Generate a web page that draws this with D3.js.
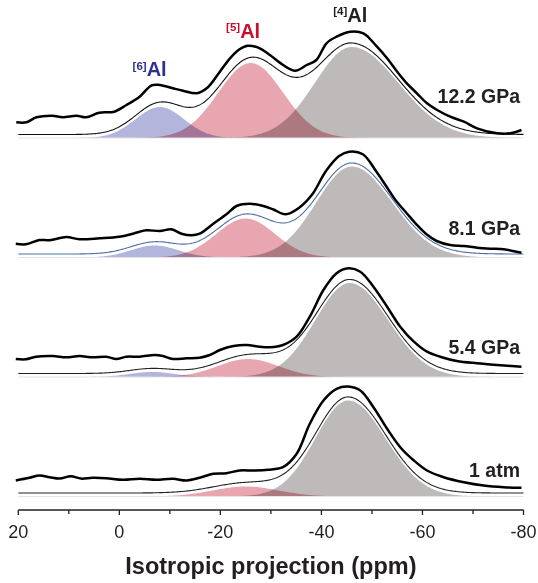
<!DOCTYPE html>
<html>
<head>
<meta charset="utf-8">
<script src="https://cdn.jsdelivr.net/npm/d3@7"></script>
<style>
  body { margin: 0; background: #fff; }
  text { font-family: Arial, "Liberation Sans", sans-serif; }
</style>
</head>
<body>
<script>
// size of the picture
var width = 538,
    height = 583;

// panels, top to bottom
var panels = ["12.2 GPa", "8.1 GPa", "5.4 GPa", "1 atm"];

// fitted components for each panel: centre (ppm), height, gaussian widths (ppm)
var al6Center = [-8, -7, -6.5, -7];
var al6Height = [31, 12, 5, 0];
var al6Width = [4.8, 4.7, 4.5, 4.5];

var al5Center = [-26, -25, -25.5, -25];
var al5Height = [75, 39, 18, 10];
var al5Width = [6.4, 5.8, 6, 6.5];

var al4Center = [-46, -46, -45.6, -45.3];
var al4Height = [91, 91, 94, 96];
var al4WidthLeft = [7.3, 7, 6.8, 6.5];
var al4WidthRight = [9.2, 8, 7.6, 7.4];

// measured projections, [ppm, intensity]
var data122 = [[20.4, 3.7], [18.4, 3.7], [16.4, 8.7], [13.3, 10.3], [11.2, 8.7], [8.5, 10.3],
  [6.6, 8.7], [4, 13.3], [1, 14.3], [-1.4, 21], [-4, 29.3], [-6.4, 40.7], [-8, 41],
  [-10.6, 37.7], [-12.6, 35.3], [-15.3, 32.7], [-17.3, 37.7], [-19.9, 54.3], [-21.9, 67.7],
  [-23.8, 76.7], [-25.4, 80.3], [-27.8, 77.7], [-29.8, 71], [-32.4, 61], [-34.8, 55.3],
  [-37.1, 61], [-39, 66], [-41, 82.7], [-43, 89.3], [-45.7, 94.3], [-48.3, 92.7], [-51, 79.3],
  [-53, 67.7], [-55, 54.3], [-56.9, 42.7], [-58.9, 32.7], [-60.9, 22.7], [-62.9, 16],
  [-65.5, 9.3], [-68.2, 4.3], [-70.8, -2.3], [-74.8, -7.3], [-77.4, -7.3], [-79.6, -4]];

var data81 = [[20.5, 1.8], [18.5, 1.2], [15.8, 5.5], [13.8, 5.2], [10.5, 8.5], [7.9, 6.2],
  [3.9, 7.2], [0, 8.8], [-2.7, 11.8], [-5.3, 15.2], [-8, 14.5], [-10.3, 16.2], [-12.3, 11.8],
  [-14.3, 10.2], [-15.9, 11.8], [-18.6, 21.8], [-21.2, 31.2], [-23.2, 39.5], [-25.8, 41.8],
  [-28.5, 39.5], [-30.5, 36], [-32.9, 31.2], [-35.6, 37.8], [-38.2, 51.2], [-40.9, 74.5],
  [-43.5, 89.5], [-45.5, 93.8], [-48.2, 91.2], [-50.8, 74.5], [-52.8, 59.5], [-54.8, 44.5],
  [-56.8, 32.8], [-58.8, 21.2], [-60.8, 11.2], [-62.8, 4.5], [-65.5, 0.5], [-68.2, -0.5],
  [-70.8, -2.2], [-73.5, -3.2], [-76.1, -3.8], [-79.6, -7.2]];

var data54 = [[20.5, 6], [18.5, 5.7], [16.5, 8.3], [13.2, 9], [10.5, 7.7], [7.9, 9], [5.3, 7.7],
  [2.6, 8.3], [0.6, 6], [-1.4, 8.3], [-4, 8.3], [-7, 10], [-8.6, 9], [-10.6, 6], [-13.3, 6.7],
  [-15.9, 7.3], [-17.9, 10], [-19.9, 15], [-22.6, 19], [-25.2, 20], [-27.8, 18.3], [-29.8, 17.7],
  [-32.4, 20], [-35.1, 28.3], [-37.7, 48.3], [-40.4, 75], [-43, 91.7], [-45.3, 96.7],
  [-47.7, 93.3], [-50.3, 78.3], [-53, 58.3], [-55.6, 38.3], [-58.3, 23.3], [-60.9, 13.3],
  [-63.5, 8.3], [-66.8, 4], [-70.8, 1.7], [-74.8, 0], [-79.6, -1.7]];

var data1atm = [[20.5, 4], [17.8, 6.7], [15.8, 9], [13.8, 7.3], [11.8, 5.9], [9.6, 8.3], [7.6, 5.9],
  [5.3, 6.7], [2.6, 6.3], [-0.7, 4.7], [-4, 5.7], [-7.3, 4.7], [-10.6, 5.7], [-13.3, 4],
  [-15.9, 6.7], [-18.6, 10.7], [-21.2, 11.3], [-23.8, 14], [-26.5, 14], [-29.4, 14.7],
  [-32.4, 17.3], [-35.1, 30.7], [-37.7, 60.7], [-40.4, 84], [-43, 95.7], [-45.3, 98],
  [-47.7, 94], [-50.3, 77.3], [-53, 55.7], [-55.6, 37.3], [-58.3, 24], [-60.9, 14],
  [-64.2, 7.3], [-68.2, 2.3], [-72.1, -1], [-76.1, -2.7], [-79.6, -3.3]];

var measured = [data122, data81, data54, data1atm];

// axis ticks
var majorTicks = [20, 0, -20, -40, -60, -80];
var minorTicks = [10, -10, -30, -50, -70];

// styles
var fillColors = { al6: "#b3b5dc", al5: "#e8a6b1", al4: "#bdbab9" };
var fitColors = ["#111", "#4d6fa6", "#222", "#222"];

var svg = d3.select("body")
  .append("svg")
  .attr("width", width)
  .attr("height", height);

// ppm scale runs from high to low
var x = d3.scaleLinear()
  .domain([20, -80])
  .range([18.3, 523.5]);

// baseline of each panel
var panelY = d3.scalePoint()
  .domain(panels)
  .range([138, 496.5]);

// intensity to pixels (upwards)
var y = d3.scaleLinear()
  .domain([0, 100])
  .range([0, -100]);

var fitOffset = 3.5,
    dataOffset = 12;

function gauss(p, c, h, wl, wr) {
  var w = p > c ? wl : wr;
  return h * Math.exp(-(p - c) * (p - c) / (2 * w * w));
}

var grid = d3.range(20, -80.01, -0.25);

panels.forEach(function(name, i) {
  var g = svg.append("g")
    .attr("transform", "translate(0," + panelY(name) + ")");

  var comps = [
    { key: "al6", f: function(p) { return gauss(p, al6Center[i], al6Height[i], al6Width[i], al6Width[i]); } },
    { key: "al5", f: function(p) { return gauss(p, al5Center[i], al5Height[i], al5Width[i], al5Width[i]); } },
    { key: "al4", f: function(p) { return gauss(p, al4Center[i], al4Height[i], al4WidthLeft[i], al4WidthRight[i]); } }
  ];

  var area = d3.area()
    .x(function(d) { return x(d[0]); })
    .y0(y(0))
    .y1(function(d) { return y(d[1]); });

  comps.forEach(function(c) {
    g.append("path")
      .datum(grid.map(function(p) { return [p, c.f(p)]; }))
      .attr("d", area)
      .attr("fill", fillColors[c.key])
      .style("mix-blend-mode", "multiply");
  });

  // faint baseline under the fills
  g.append("line")
    .attr("x1", x(20)).attr("x2", x(-80))
    .attr("y1", y(0)).attr("y2", y(0))
    .attr("stroke", "#e4e4e4")
    .attr("stroke-width", 1);

  var line = d3.line()
    .x(function(d) { return x(d[0]); })
    .y(function(d) { return y(d[1]); });

  // sum of components
  var fit = grid.map(function(p) {
    return [p, d3.sum(comps, function(c) { return c.f(p); })];
  });

  g.append("path")
    .datum(fit)
    .attr("d", line)
    .attr("transform", "translate(0," + (-fitOffset) + ")")
    .attr("fill", "none")
    .attr("stroke", fitColors[i])
    .attr("stroke-width", 1.1);

  // measured projection
  g.append("path")
    .datum(measured[i])
    .attr("d", line.curve(d3.curveCatmullRom.alpha(0.5)))
    .attr("transform", "translate(0," + (-dataOffset) + ")")
    .attr("fill", "none")
    .attr("stroke", "#000")
    .attr("stroke-width", 2.5)
    .attr("stroke-linejoin", "round");

  // pressure label
  g.append("text")
    .attr("x", 520)
    .attr("y", [-35, -22.5, -23, -19.5][i])
    .attr("text-anchor", "end")
    .attr("font-size", "19.5px")
    .attr("font-weight", "bold")
    .attr("fill", "#231f20")
    .text(name);
});

// site labels on the top panel
var siteLabels = [
  { sup: "[6]", ppm: -6, y: 76, color: "#2e3192" },
  { sup: "[5]", ppm: -24.5, y: 37.5, color: "#c8102e" },
  { sup: "[4]", ppm: -45.7, y: 21.5, color: "#231f20" }
];

siteLabels.forEach(function(d) {
  var t = svg.append("text")
    .attr("x", x(d.ppm))
    .attr("y", d.y)
    .attr("text-anchor", "middle")
    .attr("font-weight", "bold")
    .attr("fill", d.color);
  t.append("tspan")
    .attr("font-size", "11.5px")
    .attr("dy", "-6.5")
    .text(d.sup);
  t.append("tspan")
    .attr("font-size", "20px")
    .attr("dy", "6.5")
    .text("Al");
});

// x axis
var axisY = 510;
var axis = svg.append("g")
  .attr("transform", "translate(0," + axisY + ")");

axis.append("line")
  .attr("x1", x(20)).attr("x2", x(-80))
  .attr("stroke", "#231f20")
  .attr("stroke-width", 1.3);

axis.selectAll(".major")
  .data(majorTicks)
  .enter()
  .append("line")
  .attr("x1", function(d) { return x(d); })
  .attr("x2", function(d) { return x(d); })
  .attr("y1", 0).attr("y2", 5)
  .attr("stroke", "#231f20")
  .attr("stroke-width", 1.3);

axis.selectAll(".minor")
  .data(minorTicks)
  .enter()
  .append("line")
  .attr("x1", function(d) { return x(d); })
  .attr("x2", function(d) { return x(d); })
  .attr("y1", 0).attr("y2", 4)
  .attr("stroke", "#231f20")
  .attr("stroke-width", 1.3);

axis.selectAll(".label")
  .data(majorTicks)
  .enter()
  .append("text")
  .attr("x", function(d) { return x(d); })
  .attr("y", 28)
  .attr("text-anchor", "middle")
  .attr("font-size", "18px")
  .attr("fill", "#231f20")
  .text(function(d) { return d; });

svg.append("text")
  .attr("x", x(-30))
  .attr("y", 574)
  .attr("text-anchor", "middle")
  .attr("font-size", "23.5px")
  .attr("font-weight", "bold")
  .attr("fill", "#231f20")
  .text("Isotropic projection (ppm)");
</script>
</body>
</html>
